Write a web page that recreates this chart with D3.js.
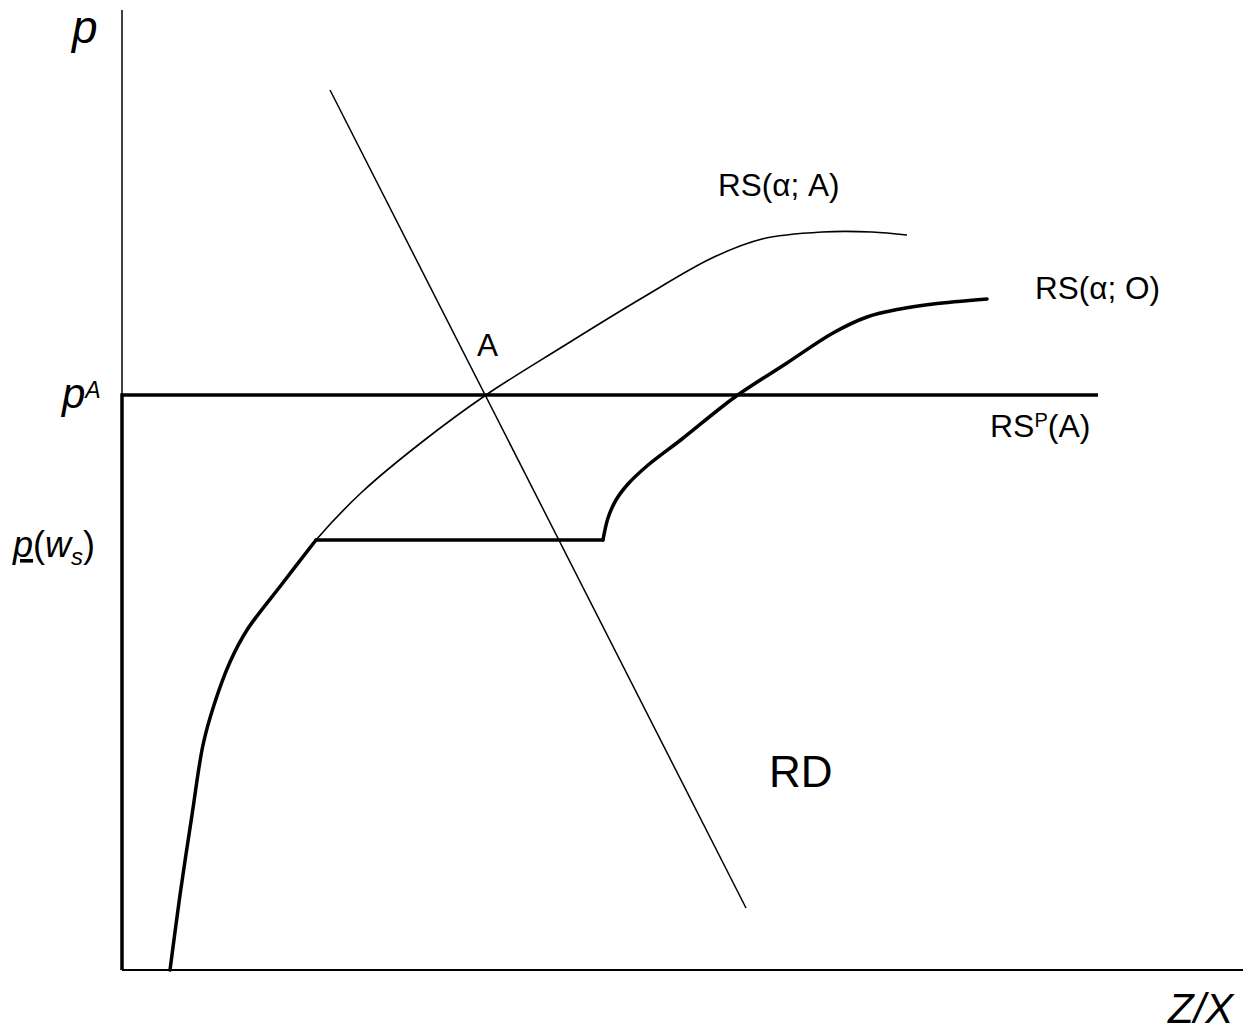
<!DOCTYPE html>
<html>
<head>
<meta charset="utf-8">
<script src="https://cdn.jsdelivr.net/npm/d3@7"></script>
<style>
  html, body { margin: 0; padding: 0; background: #fff; }
  svg text { font-family: "Liberation Sans", Arial, Helvetica, sans-serif; fill: #000; }
</style>
</head>
<body>
<svg id="chart" width="1249" height="1033"></svg>
<script>
// ---- Data (in diagram units: x = Z/X, y = p) ----
// Shared lower branch (both relative-supply curves coincide here)
const lowerBranch = [
  [48, 0], [58, 75], [70, 155], [81, 225], [92, 265], [108, 308],
  [125, 340], [160, 386], [194, 430]
];
// RS(α; A) upper part (thin)
const rsAlphaAUpper = [
  [194, 430], [240, 478], [300, 528], [364, 575], [440, 623], [520, 672],
  [590, 712], [640, 731], [700, 738], [750, 738], [785, 735]
];
// RS(α; O) flat segment at p(w_s) and upper part (thick)
const rsAlphaOFlat = [[194, 430], [481, 430]];
const rsAlphaOUpper = [
  [481, 430], [486, 452], [494, 470], [506, 486], [525, 504], [560, 531],
  [613, 573], [665, 607], [711, 637], [745, 653], [778, 661], [811, 666], [865, 671]
];
// Relative demand RD
const rdLine = [[208, 880], [624, 62]];
// Price levels
const pA = 575;        // p^A
const pWs = 430;       // p(w_s)
const rsPEnd = 976;    // end of RS^P(A)
const xMax = 1121, yMax = 960;

// Labels
const curveLabels = [
  { text: "RS(α; A)", x: 596, y: 774 },
  { text: "RS(α; O)", x: 913, y: 671 },
  { text: "A", x: 355, y: 614 }
];

// ---- Scales ----
const x = d3.scaleLinear().domain([0, xMax]).range([122, 1243]);
const y = d3.scaleLinear().domain([0, yMax]).range([970, 10]);

const svg = d3.select("#chart");
const curve = d3.line().x(d => x(d[0])).y(d => y(d[1])).curve(d3.curveCatmullRom.alpha(0.5));
const straight = d3.line().x(d => x(d[0])).y(d => y(d[1]));

// Axes (plain lines, no ticks)
svg.append("path").attr("d", straight([[0, 0], [0, yMax]]))
  .attr("stroke", "#000").attr("stroke-width", 1.5).attr("fill", "none");
svg.append("path").attr("d", straight([[0, 0], [xMax, 0]]))
  .attr("stroke", "#000").attr("stroke-width", 2).attr("fill", "none");

// RS^P(A): thick vertical segment + horizontal line at p^A
svg.append("path").attr("d", straight([[0, 0], [0, pA], [rsPEnd, pA]]))
  .attr("stroke", "#000").attr("stroke-width", 3.5).attr("fill", "none")
  .attr("stroke-linejoin", "miter");

// RD
svg.append("path").attr("d", straight(rdLine))
  .attr("stroke", "#000").attr("stroke-width", 1.5).attr("fill", "none");

// RS(α; A) thin
svg.append("path").attr("d", curve(lowerBranch.concat(rsAlphaAUpper.slice(1))))
  .attr("stroke", "#000").attr("stroke-width", 1.6).attr("fill", "none");

// RS(α; O) thick
const thickStyle = p => p.attr("stroke", "#000").attr("stroke-width", 3.5).attr("fill", "none")
  .attr("stroke-linejoin", "round").attr("stroke-linecap", "round");
svg.append("path").attr("d", curve(lowerBranch)).call(thickStyle);
svg.append("path").attr("d", straight(rsAlphaOFlat)).call(thickStyle);
svg.append("path").attr("d", curve(rsAlphaOUpper)).call(thickStyle);

// ---- Text ----
svg.append("text").attr("x", 72).attr("y", 43)
  .attr("font-size", 46).attr("font-style", "italic").text("p");

const tA = svg.append("text").attr("x", 62).attr("y", 408)
  .attr("font-size", 42).attr("font-style", "italic");
tA.append("tspan").text("p");
tA.append("tspan").attr("font-size", 23).attr("dy", -10).text("A");

const tW = svg.append("text").attr("x", 13).attr("y", 557).attr("font-size", 36);
tW.append("tspan").attr("font-style", "italic").attr("text-decoration", "underline").text("p");
tW.append("tspan").text("(");
tW.append("tspan").attr("font-style", "italic").text("w");
tW.append("tspan").attr("font-style", "italic").attr("font-size", 24).attr("dy", 8).text("s");
tW.append("tspan").attr("dy", -8).text(")");

curveLabels.forEach(l => {
  svg.append("text").attr("x", x(l.x)).attr("y", y(l.y)).attr("font-size", 31.5).text(l.text);
});

const tP = svg.append("text").attr("x", 990).attr("y", 437).attr("font-size", 32);
tP.append("tspan").text("RS");
tP.append("tspan").attr("font-size", 20).attr("dy", -10).text("P");
tP.append("tspan").attr("dy", 10).text("(A)");

svg.append("text").attr("x", 769).attr("y", 787).attr("font-size", 44).text("RD");

svg.append("text").attr("x", 1168).attr("y", 1023)
  .attr("font-size", 42).attr("font-style", "italic").text("Z/X");
</script>
</body>
</html>
